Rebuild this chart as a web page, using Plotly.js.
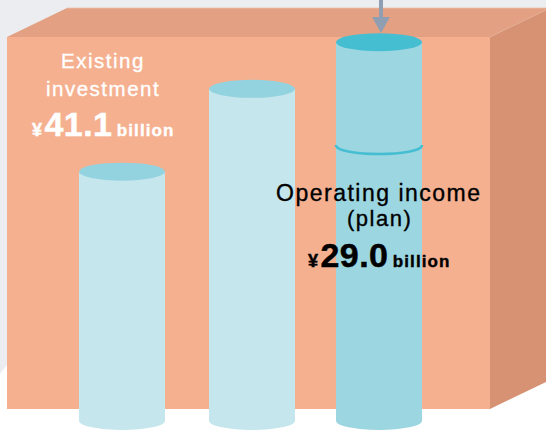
<!DOCTYPE html>
<html><head><meta charset="utf-8">
<script src="https://cdn.plot.ly/plotly-3.0.1.min.js"></script>
<style>html,body{margin:0;padding:0;background:#fff}.annotation-text{letter-spacing:1.5px}</style>
</head><body><div id="chart" style="width:546px;height:430px"></div>
<script>
// data (billions of yen)
const categories = ['Bar 1', 'Bar 2', 'Bar 3'];
const lowerValues = [26.2, 34.9, 29.0];
const upperValues = [0, 0, 10.8];
const bodyColors = ['#c5e6ed', '#c5e6ed', '#9cd6e1'];
const topColors = ['#93d2df', '#93d2df', '#46bed2'];

// layout
const W = 546, H = 430;
const centers = [122, 252, 379];
const barWidth = 86;
const pxPerUnit = 9.517, baseY = 421;
const capPx = 9;
const capUnits = capPx / pxPerUnit;
const px = (x, y) => `${x / W} ${1 - y / H}`;
const poly = (pts) => 'M' + pts.map(p => px(p[0], p[1])).join(' L') + ' Z';
const paperShape = (pts, fill) => ({type:'path', xref:'paper', yref:'paper', layer:'below', path:poly(pts), fillcolor:fill, line:{width:0}});

const shapes = [
  paperShape([[0,0],[546,0],[546,40],[7,40],[7,365],[0,374]], '#ebedf1'),
  paperShape([[7,37],[67,8],[546,8],[546,10],[490,37]], '#e3a082'),
  paperShape([[490,37],[546,10],[546,382],[490,409]], '#d69272'),
  paperShape([[7,37],[490,37],[490,409],[7,409]], '#f5b090'),
  {type:'path', xref:'paper', yref:'paper', layer:'below', path:`M${px(490,37)} L${px(546,10)}`, line:{color:'#e9b49b', width:0.6}},
  {type:'path', xref:'paper', yref:'paper', layer:'below', path:`M${px(67,8)} L${px(546,8)}`, line:{color:'#ecc0aa', width:0.8}}
];
const ellipse = (cx, v, color, layer) => ({type:'circle', xref:'x', yref:'y', layer,
  x0:cx - barWidth/2, x1:cx + barWidth/2, y0:v - capUnits, y1:v + capUnits, fillcolor:color, line:{width:0}});
categories.forEach((c, i) => {
  shapes.push(ellipse(centers[i], 0, bodyColors[i], 'below'));
  shapes.push(ellipse(centers[i], lowerValues[i] + upperValues[i], topColors[i], 'above'));
});
// seam between the two parts of the third cylinder
const k = capUnits * 4 / 3, sx0 = centers[2] - barWidth/2, sx1 = centers[2] + barWidth/2, sv = lowerValues[2];
shapes.push({type:'path', xref:'x', yref:'y', layer:'above',
  path:`M${sx0} ${sv} C${sx0} ${sv - k} ${sx1} ${sv - k} ${sx1} ${sv}`, line:{color:'#46bed2', width:2.6}});
// arrow
shapes.push({type:'path', xref:'paper', yref:'paper', layer:'above', path:poly([[379,0],[383,0],[383,17],[390,17],[381,33],[372,17],[379,17]]), fillcolor:'#8f9fb1', line:{width:0}});

const heavy = (text, color, sw) => `<span style="stroke:${color};stroke-width:${sw}px">${text}</span>`;
const note = (text, x, y, color, size) => ({xref:'paper', yref:'paper', x:x/W, y:1 - y/H, xanchor:'center', yanchor:'middle', showarrow:false, text, font:{color, size}, align:'center'});
const amount = (num, color) =>
  `<span style="font-size:18px;font-weight:bold;letter-spacing:0.5px;stroke:${color};stroke-width:0.5px">¥\u200a</span>` +
  `<span style="font-size:34px;font-weight:bold;letter-spacing:0.4px;stroke:${color};stroke-width:0.5px">${num}</span>` +
  `<span style="font-size:17px;font-weight:bold;letter-spacing:1.1px;stroke:${color};stroke-width:0.4px">\u2009billion</span>`;

const traces = [
  {type:'bar', x:centers, y:lowerValues, width:barWidth, marker:{color:bodyColors, line:{width:0}}, hoverinfo:'skip'},
  {type:'bar', x:centers, y:upperValues, width:barWidth, marker:{color:bodyColors, line:{width:0}}, hoverinfo:'skip'}
];
const layout = {
  width:W, height:H, margin:{l:0,r:0,t:0,b:0,pad:0}, showlegend:false, barmode:'stack',
  paper_bgcolor:'#fff', plot_bgcolor:'rgba(0,0,0,0)',
  font:{family:'"Liberation Sans", Arial, sans-serif'},
  xaxis:{range:[0,W], visible:false, fixedrange:true},
  yaxis:{range:[(baseY - H)/pxPerUnit, baseY/pxPerUnit], visible:false, fixedrange:true},
  shapes,
  annotations:[
    note(heavy('Existing', '#fff', 0.35), 103, 61, '#fff', 20.5),
    note(heavy('investment', '#fff', 0.35), 103, 88, '#fff', 20.5),
    note(amount('41.1', '#fff'), 103.5, 124, '#fff', 20),
    note(heavy('Operating income', '#000', 0.35), 379, 193, '#000', 23),
    note(heavy('(plan)', '#000', 0.35), 379, 218, '#000', 22),
    note(amount('29.0', '#000'), 379, 255, '#000', 20)
  ]
};
Plotly.newPlot('chart', traces, layout, {displayModeBar:false, staticPlot:true});
</script></body></html>
